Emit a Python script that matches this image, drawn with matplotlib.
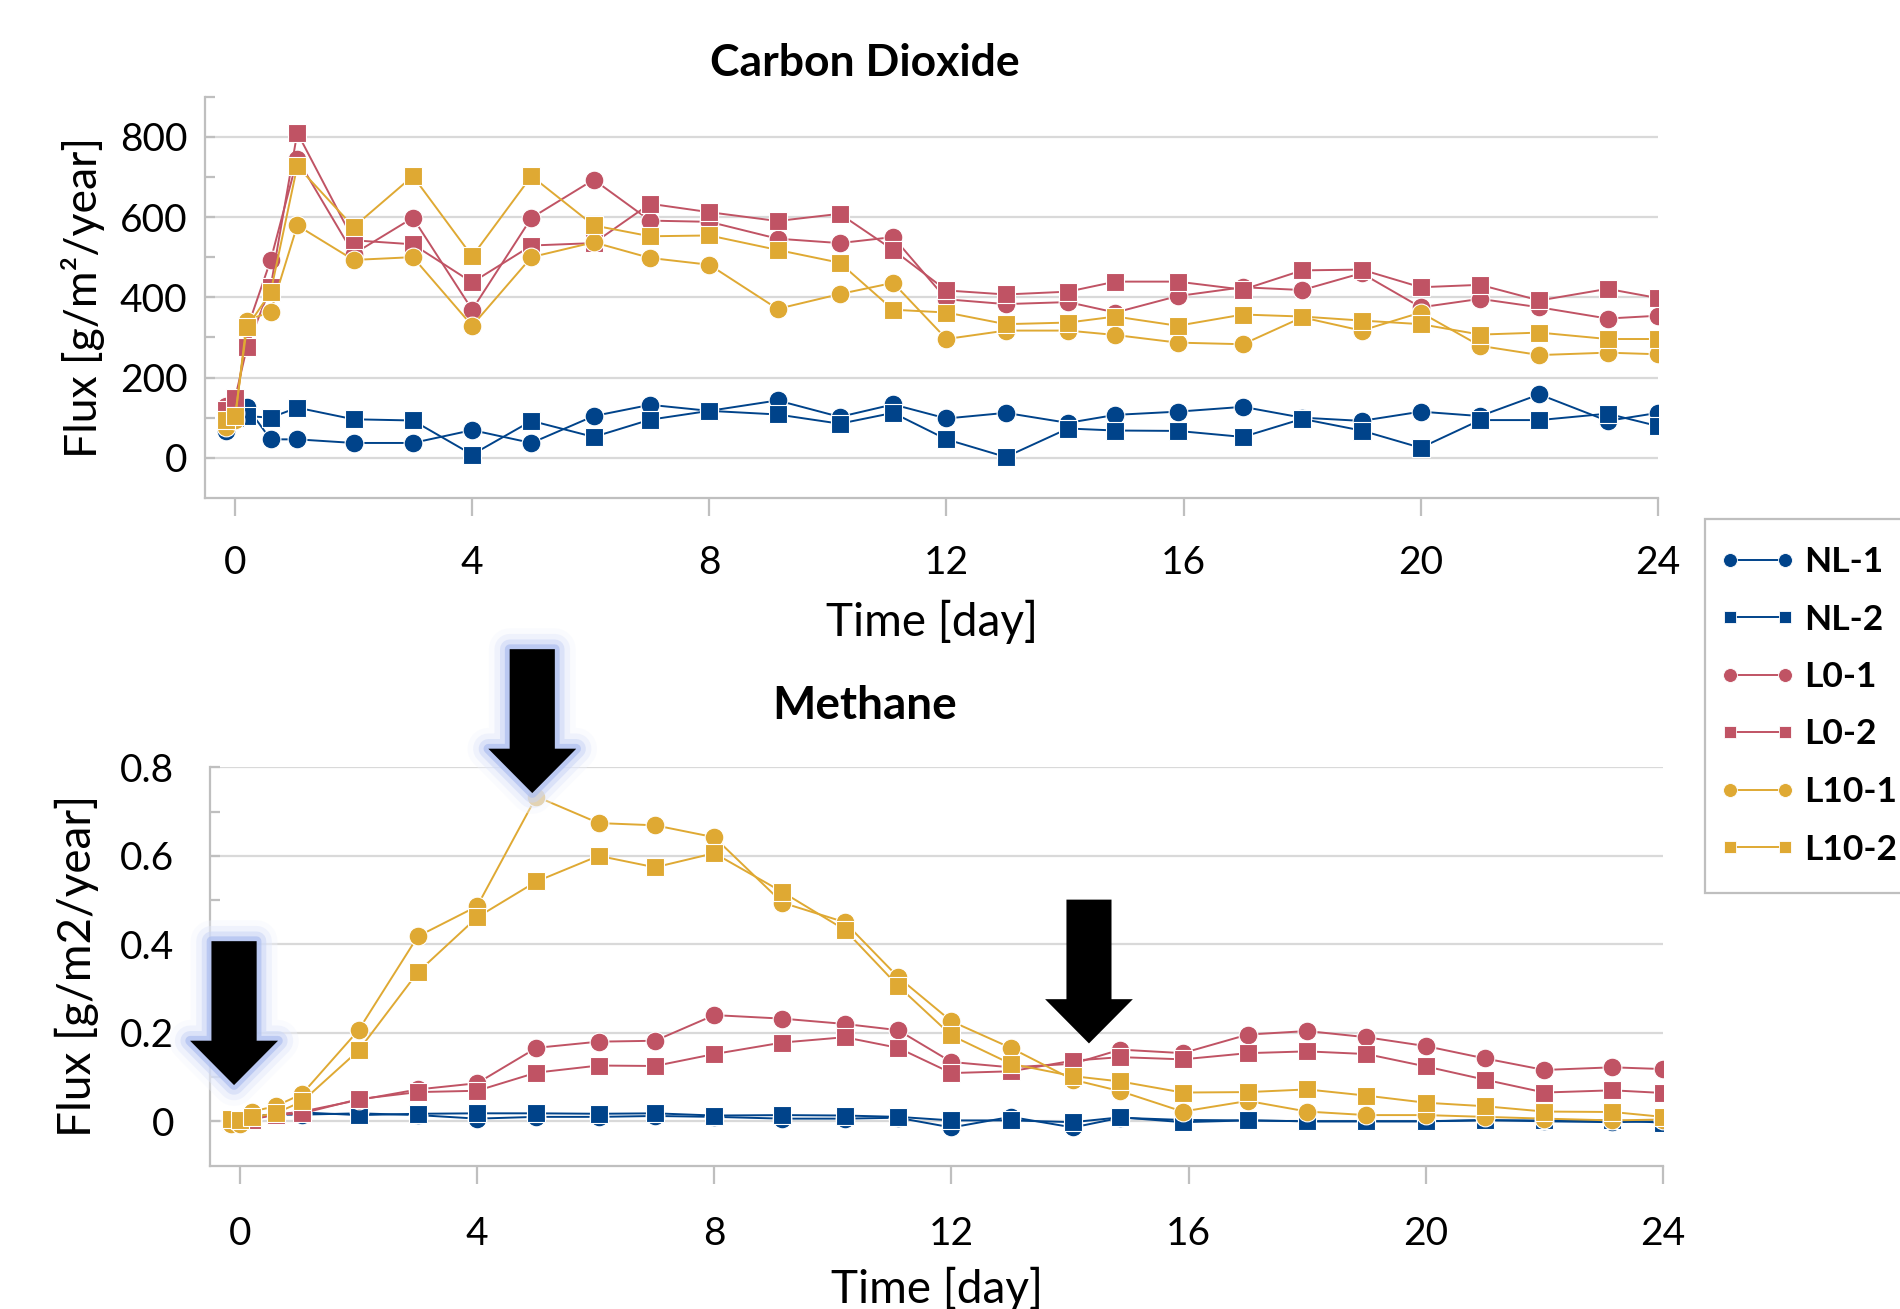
import matplotlib
matplotlib.use('Agg')
import matplotlib.pyplot as plt
import matplotlib.patheffects as pe
from matplotlib.patches import Polygon, Rectangle
from matplotlib.lines import Line2D

plt.rcParams['font.family'] = ['Lato', 'DejaVu Sans']

# sampling times [day]
days = [-0.15, 0, 0.2, 0.6, 1.05, 2, 3, 4, 5, 6.05, 7, 8, 9.15, 10.2, 11.1,
        12, 13, 14.05, 14.85, 15.9, 17, 18, 19, 20, 21, 22, 23.15, 24]

names = ['NL-1', 'NL-2', 'L0-1', 'L0-2', 'L10-1', 'L10-2']
colors = ['#00438a', '#00438a', '#c05364', '#c05364', '#dfa933', '#dfa933']
markers = ['o', 's', 'o', 's', 'o', 's']

# carbon dioxide flux [g/m2/year]
co2_nl1 = [68, 105, 127, 46, 46, 37, 37, 69, 37, 104, 132, 117, 143, 102, 133,
           98, 112, 87, 107, 115, 127, 100, 92, 115, 104, 158, 92, 112]
co2_nl2 = [92, 100, 104, 100, 125, 96, 93, 8, 92, 52, 95, 117, 108, 85, 112,
           46, 2, 73, 68, 67, 52, 97, 68, 25, 94, 94, 110, 79]
co2_l01 = [128, 112, 320, 492, 745, 508, 598, 369, 598, 693, 591, 588, 546, 535, 550,
           395, 383, 388, 362, 403, 425, 418, 460, 375, 396, 375, 347, 354]
co2_l02 = [118, 148, 275, 425, 810, 542, 532, 437, 529, 535, 633, 612, 590, 608, 518,
           417, 407, 414, 439, 439, 419, 467, 469, 425, 431, 392, 421, 398]
co2_l101 = [78, 95, 342, 364, 579, 493, 500, 329, 500, 537, 498, 481, 371, 408, 436,
            296, 317, 317, 306, 287, 283, 350, 317, 362, 279, 256, 262, 258]
co2_l102 = [95, 104, 325, 412, 727, 575, 702, 502, 702, 579, 552, 554, 518, 486, 369,
            362, 333, 337, 352, 329, 357, 352, 342, 333, 307, 312, 296, 296]

# methane flux [g/m2/year]
ch4_nl1 = [0.0, 0.0, 0.012, 0.015, 0.015, 0.018, 0.014, 0.006, 0.010, 0.010, 0.012,
           0.010, 0.006, 0.006, 0.008, -0.014, 0.010, -0.014, 0.008, 0.003, 0.002,
           0.0, 0.0, 0.0, 0.003, 0.0, -0.002, 0.0]
ch4_nl2 = [0.0, 0.002, 0.008, 0.015, 0.020, 0.014, 0.017, 0.018, 0.018, 0.017, 0.018,
           0.013, 0.014, 0.013, 0.010, 0.002, 0.002, -0.002, 0.009, -0.002, 0.002,
           0.0, 0.0, 0.0, 0.002, 0.002, 0.002, -0.003]
ch4_l01 = [0.0, 0.0, 0.006, 0.015, 0.022, 0.048, 0.072, 0.086, 0.166, 0.180, 0.182,
           0.240, 0.232, 0.220, 0.206, 0.134, 0.122, 0.130, 0.162, 0.154, 0.196,
           0.204, 0.190, 0.170, 0.142, 0.116, 0.122, 0.118]
ch4_l02 = [0.0, 0.002, 0.004, 0.015, 0.018, 0.050, 0.066, 0.069, 0.110, 0.126, 0.125,
           0.152, 0.178, 0.190, 0.166, 0.109, 0.113, 0.137, 0.145, 0.140, 0.154,
           0.158, 0.152, 0.124, 0.094, 0.065, 0.070, 0.064]
ch4_l101 = [-0.005, -0.005, 0.022, 0.034, 0.062, 0.206, 0.418, 0.486, 0.734, 0.674,
            0.669, 0.642, 0.494, 0.450, 0.326, 0.226, 0.166, 0.094, 0.068, 0.022,
            0.046, 0.022, 0.014, 0.014, 0.010, 0.006, 0.002, 0.004]
ch4_l102 = [0.006, 0.002, 0.009, 0.018, 0.045, 0.160, 0.337, 0.461, 0.542, 0.600,
            0.574, 0.606, 0.518, 0.433, 0.306, 0.194, 0.130, 0.102, 0.090, 0.065,
            0.066, 0.072, 0.058, 0.042, 0.034, 0.022, 0.021, 0.010]

co2_series = [co2_nl1, co2_nl2, co2_l01, co2_l02, co2_l101, co2_l102]
ch4_series = [ch4_nl1, ch4_nl2, ch4_l01, ch4_l02, ch4_l101, ch4_l102]

# arrow tips on the methane panel (day, flux) and whether they glow
arrow_tips = [(-0.1, 0.082, True), (4.93, 0.742, True), (14.32, 0.176, False)]

GRID = '#d9d9d9'
SPINE = '#bfbfbf'
FS = 28      # tick labels
LFS = 33     # axis labels
TFS = 32     # titles

fig = plt.figure(figsize=(19, 13.09), dpi=100)
ax1 = fig.add_axes([0.1081, 0.6196, 0.7645, 0.3066])
ax2 = fig.add_axes([0.1107, 0.1096, 0.7645, 0.3042])


def style(ax, ylim, major, minor, ypad, xpad):
    ax.set_xlim(-0.5, 24)
    ax.set_ylim(*ylim)
    ax.set_xticks(range(0, 25, 4))
    ax.set_yticks(major)
    ax.set_yticks(minor, minor=True)
    ax.grid(axis='y', color=GRID, linewidth=1.6, zorder=0)
    ax.set_axisbelow(True)
    for s in ['top', 'right']:
        ax.spines[s].set_visible(False)
    for s in ['left', 'bottom']:
        ax.spines[s].set_color(SPINE)
        ax.spines[s].set_linewidth(1.6)
    ax.tick_params(axis='x', direction='out', length=13, width=1.6, color=SPINE,
                   labelsize=FS, pad=xpad)
    ax.tick_params(axis='y', which='both', direction='in', length=7, width=1.6,
                   color=SPINE, labelsize=FS, pad=ypad)


for ax, series in [(ax1, co2_series), (ax2, ch4_series)]:
    for vals, c, m in zip(series, colors, markers):
        ax.plot(days, vals, color=c, marker=m, markersize=13.5 if m == 'o' else 12.5,
                markeredgecolor='white', markeredgewidth=0.8, linewidth=1.4,
                zorder=3)

style(ax1, (-100, 900), [0, 200, 400, 600, 800], [100, 300, 500, 700, 900], 13, 21)
style(ax2, (-0.1, 0.8), [0, 0.2, 0.4, 0.6, 0.8], [0.1, 0.3, 0.5, 0.7], 26, 23)
ax2.set_yticklabels(['0', '0.2', '0.4', '0.6', '0.8'])

ax1.set_ylabel('Flux [g/m²/year]', fontsize=LFS - 1)
ax2.set_ylabel('Flux [g/m2/year]', fontsize=LFS)
ax1.set_xlabel('Time [day]', fontsize=LFS)
ax2.set_xlabel('Time [day]', fontsize=LFS)
ax1.yaxis.set_label_coords(-0.084, 0.5)
ax2.yaxis.set_label_coords(-0.092, 0.5)
ax1.xaxis.set_label_coords(0.5, -0.31)
ax2.xaxis.set_label_coords(0.5, -0.31)
for a in (ax1, ax2):
    a.xaxis.label.set_va('center')
    a.yaxis.label.set_va('center')

fig.text(865 / 1900, 1 - 63 / 1309, 'Carbon Dioxide', ha='center', va='center',
         fontsize=TFS, fontweight='bold')
fig.text(865 / 1900, 1 - 706 / 1309, 'Methane', ha='center', va='center',
         fontsize=TFS + 1, fontweight='bold')

# block arrows on the methane panel
hw, hl, sw, sl = 0.74, 0.10, 0.38, 0.225
for tx, ty, glow in arrow_tips:
    pts = [(tx, ty), (tx - hw, ty + hl), (tx - sw, ty + hl), (tx - sw, ty + hl + sl),
           (tx + sw, ty + hl + sl), (tx + sw, ty + hl), (tx + hw, ty + hl)]
    poly = Polygon(pts, closed=True, facecolor='black', edgecolor='none',
                   clip_on=False, zorder=10)
    if glow:
        poly.set_path_effects([
            pe.Stroke(linewidth=30, foreground='#f1f4fd', alpha=0.35, joinstyle='round'),
            pe.Stroke(linewidth=22, foreground='#e2e8fb', alpha=0.45, joinstyle='round'),
            pe.Stroke(linewidth=14, foreground='#cbd6f6', alpha=0.55, joinstyle='round'),
            pe.Stroke(linewidth=7, foreground='#aebff0', alpha=0.7, joinstyle='round'),
            pe.Normal()])
    ax2.add_patch(poly)

# legend
handles = [Line2D([], [], color=c, marker=m, markersize=10 if m == 'o' else 9,
                  markeredgecolor='white', markeredgewidth=0.6, linewidth=1.4)
           for c, m in zip(colors, markers)]
fig.patches.append(Rectangle((1705 / 1900, 1 - 893 / 1309), 0.2, 374 / 1309,
                             transform=fig.transFigure, facecolor='white',
                             edgecolor=SPINE, linewidth=1.6, zorder=1))
fig.legend(handles, names, loc='upper left', bbox_to_anchor=(1719 / 1900, 1 - 546 / 1309),
           frameon=False, numpoints=2, handlelength=2.16, handletextpad=0.25,
           borderpad=0, borderaxespad=0, labelspacing=0.72,
           prop={'weight': 'bold', 'size': 25.5})

fig.savefig('out.png', dpi=100)
